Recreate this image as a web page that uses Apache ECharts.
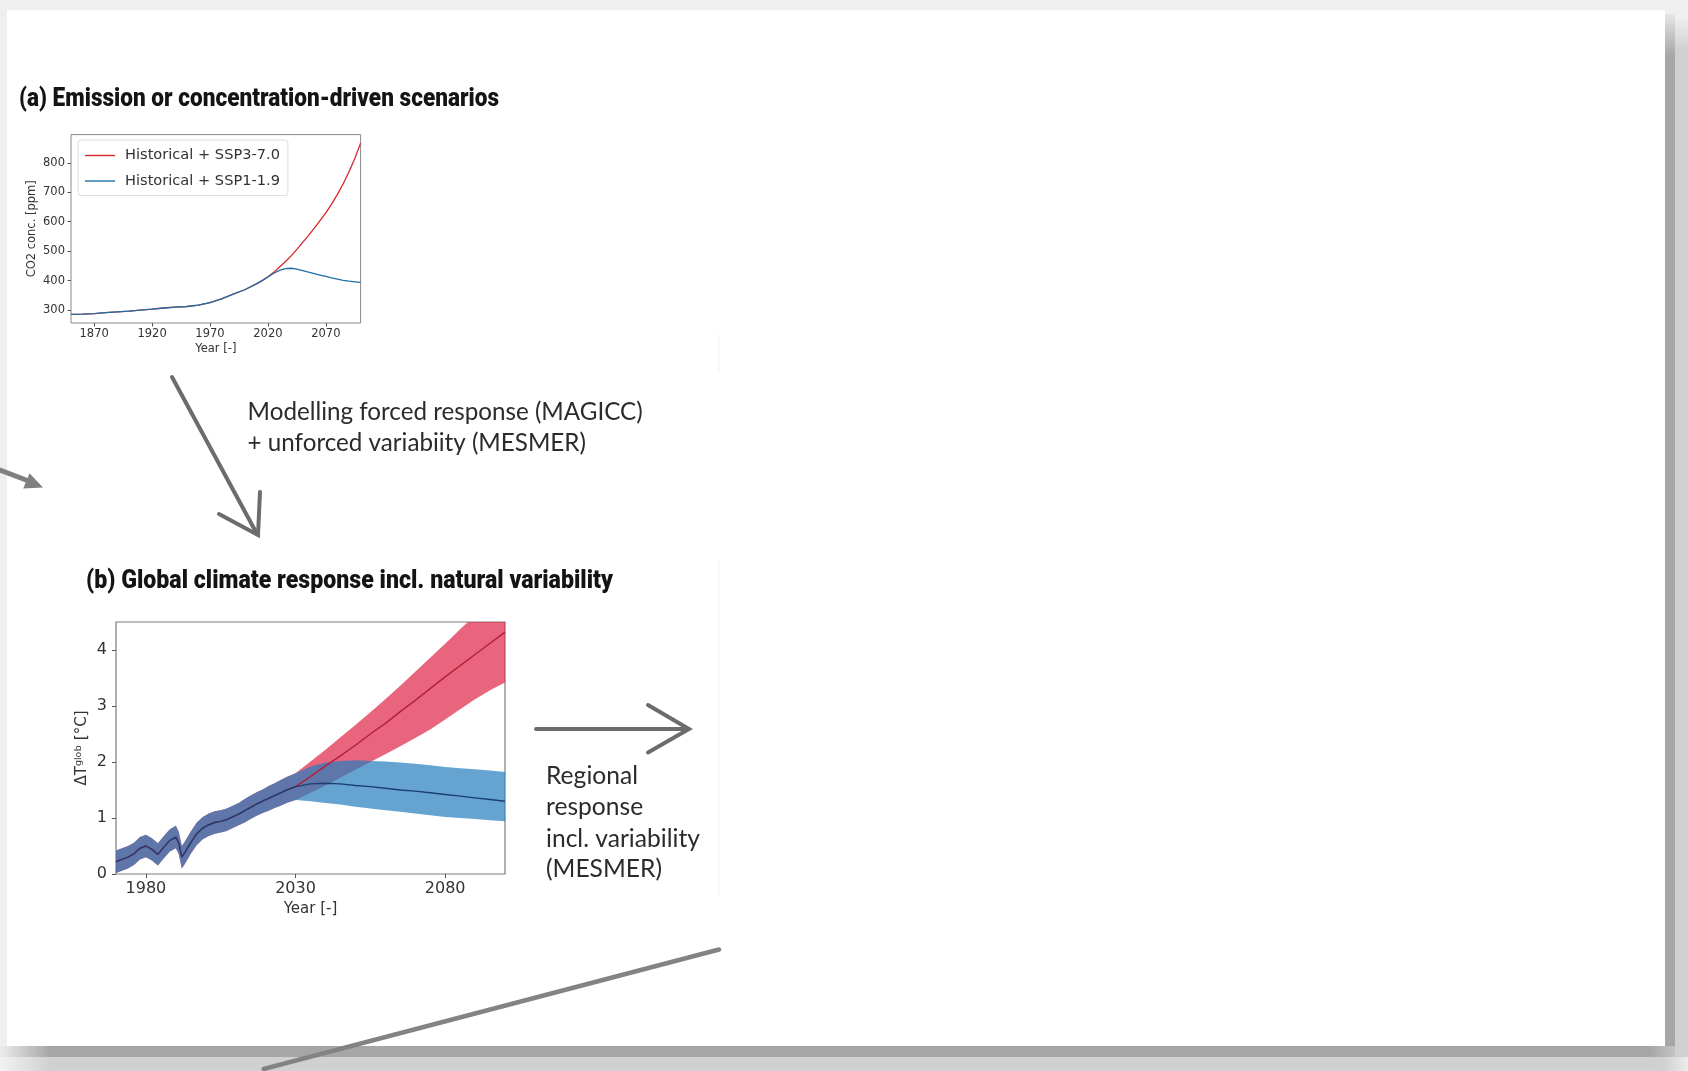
<!DOCTYPE html>
<html><head><meta charset="utf-8">
<script src="https://cdn.jsdelivr.net/npm/echarts@6/dist/echarts.min.js"></script>
<style>html,body{margin:0;padding:0;background:#efefef}#c{width:1688px;height:1071px}</style>
</head><body><div id="c"></div>
<script>
// ================= DATA =================
// (a) CO2 concentration [ppm]
const co2HistYears = [1850,1860,1870,1880,1890,1900,1910,1920,1930,1940,1950,1960,1970,1980,1990,2000,2010,2015];
const co2Hist      = [285,286,288,291,294,296,300,303,307,310,312,317,325,338,354,369,389,400];
const co2ScenYears = [2020,2025,2030,2035,2040,2045,2050,2055,2060,2065,2070,2075,2080,2085,2090,2095,2100];
const co2Ssp370    = [413,428,446,464,484,506,530,553,578,604,630,660,693,729,770,815,867];
const co2Ssp119    = [412,425,435,441,442,439,434,429,424,419,414,409,405,401,398,396,394];
const co2XTicks = [1870,1920,1970,2020,2070];
const co2YTicks = [300,400,500,600,700,800];
const seriesNamesA = ['Historical + SSP3-7.0','Historical + SSP1-1.9'];

// (b) Global temperature response [°C]
const tHistYears = [1970,1972,1974,1976,1978,1980,1982,1984,1986,1988,1990,1991,1992,1993,1995,1997,1999,2001,2003,2005,2007,2009,2011,2013,2015,2017,2019,2021,2023,2025,2027];
const tHistMid   = [0.22,0.26,0.30,0.36,0.46,0.50,0.44,0.35,0.48,0.60,0.66,0.55,0.30,0.38,0.56,0.72,0.82,0.88,0.92,0.94,0.97,1.02,1.07,1.13,1.19,1.25,1.30,1.35,1.40,1.45,1.50];
const tHistLow   = [0.02,0.06,0.10,0.16,0.26,0.30,0.24,0.15,0.28,0.40,0.46,0.35,0.10,0.18,0.36,0.52,0.62,0.68,0.72,0.74,0.77,0.82,0.87,0.92,0.98,1.04,1.09,1.13,1.18,1.22,1.27];
const tHistHigh  = [0.42,0.46,0.50,0.56,0.66,0.70,0.64,0.55,0.68,0.80,0.86,0.75,0.50,0.58,0.76,0.92,1.02,1.08,1.12,1.14,1.17,1.22,1.27,1.34,1.40,1.46,1.51,1.57,1.62,1.68,1.73];
const tScenYears = [2030,2035,2040,2045,2050,2055,2060,2065,2070,2075,2080,2085,2090,2095,2100];
const t370Mid  = [1.56,1.74,1.93,2.11,2.30,2.50,2.69,2.90,3.10,3.31,3.52,3.72,3.92,4.12,4.32];
const t370Low  = [1.32,1.45,1.58,1.72,1.86,2.00,2.14,2.28,2.43,2.58,2.76,2.94,3.12,3.28,3.42];
const t370High = [1.80,2.01,2.22,2.44,2.66,2.89,3.12,3.36,3.61,3.86,4.11,4.37,4.62,4.87,5.10];
const t119Mid  = [1.56,1.61,1.62,1.61,1.58,1.56,1.53,1.50,1.48,1.45,1.42,1.39,1.36,1.33,1.30];
const t119Low  = [1.32,1.30,1.27,1.24,1.20,1.17,1.14,1.11,1.08,1.05,1.02,1.00,0.98,0.96,0.94];
const t119High = [1.80,1.92,1.99,2.02,2.03,2.02,2.01,1.99,1.97,1.94,1.91,1.89,1.87,1.85,1.82];
const tXTicks = [1980,2030,2080];
const tYTicks = [0,1,2,3,4];

// ================= TEXT =================
const titleA = '(a) Emission or concentration-driven scenarios';
const titleB = '(b) Global climate response incl. natural variability';
const modelLines = ['Modelling forced response (MAGICC)', '+ unforced variabiity (MESMER)'];
const regionalLines = ['Regional', 'response', 'incl. variability', '(MESMER)'];

// ================= HELPERS =================
const TITLE_FONT = 'Roboto,"Noto Sans",sans-serif';
const BODY_FONT = 'Lato,"Open Sans",sans-serif';
const PLOT_FONT = '"DejaVu Sans",sans-serif';
const mctx = document.createElement('canvas').getContext('2d');
function measure(text, weight, size, family) {
  mctx.font = weight + ' ' + size + 'px ' + family;
  return mctx.measureText(text).width;
}
function fitSize(text, weight, family, target) {
  return Math.round(1000 * target / measure(text, weight, 100, family)) / 10;
}
const zipXY = (xs, ys) => xs.map((x, i) => [x, ys[i]]);
const TITLE_SIZE = 25;
const TITLE_WEIGHT = '900';
const scaleTitleA = 480 / measure(titleA, TITLE_WEIGHT, TITLE_SIZE, TITLE_FONT);
const scaleTitleB = 527 / measure(titleB, TITLE_WEIGHT, TITLE_SIZE, TITLE_FONT);
const sizeModel = fitSize(modelLines[0], 'normal', BODY_FONT, 395);
const sizeRegional = fitSize(regionalLines[2], 'normal', BODY_FONT, 154);
const sizeLegend = fitSize(seriesNamesA[0], 'normal', PLOT_FONT, 155);

// ================= BUILD =================
const allTYears = tHistYears.concat(tScenYears);

function text(x, y, str, size, family, weight, fill, extra) {
  return Object.assign({
    type: 'text', x: x, y: y, z: 100,
    style: { text: str, fontSize: size, fontFamily: family, fontWeight: weight, fill: fill,
      align: 'left', verticalAlign: 'middle', textAlign: 'left', textVerticalAlign: 'middle' }
  }, extra || {});
}
function line(x1, y1, x2, y2, w, c) {
  return { type: 'line', z: 100, shape: { x1, y1, x2, y2 }, style: { stroke: c, lineWidth: w, lineCap: 'round' } };
}
function poly(pts, w, c) {
  return { type: 'polyline', z: 100, shape: { points: pts }, style: { stroke: c, lineWidth: w, lineCap: 'round', lineJoin: 'miter', fill: null } };
}
function grad(vertical, stops) {
  return new echarts.graphic.LinearGradient(0, 0, vertical ? 0 : 1, vertical ? 1 : 0, stops);
}

const graphics = [
  // page frame & shadow
  { type: 'rect', z: -20, shape: { x: 0, y: 0, width: 1688, height: 1071 }, style: { fill: '#efefef' } },
  { type: 'rect', z: -19, shape: { x: 1675, y: 14, width: 13, height: 1057 },
    style: { fill: grad(true, [{offset:0,color:'#f2f2f2'},{offset:0.035,color:'#d0d0d0'},{offset:1,color:'#d0d0d0'}]) } },
  { type: 'rect', z: -19, shape: { x: 0, y: 1057, width: 1688, height: 14 },
    style: { fill: grad(false, [{offset:0,color:'#f2f2f2'},{offset:0.03,color:'#d0d0d0'},{offset:0.985,color:'#d0d0d0'},{offset:1,color:'#ececec'}]) } },
  { type: 'rect', z: -18, shape: { x: 1665, y: 14, width: 10, height: 1043 },
    style: { fill: grad(true, [{offset:0,color:'#e6e6e6'},{offset:0.04,color:'#a6a6a6'},{offset:1,color:'#a6a6a6'}]) } },
  { type: 'rect', z: -18, shape: { x: 0, y: 1046, width: 1675, height: 11 },
    style: { fill: grad(false, [{offset:0,color:'#ececec'},{offset:0.03,color:'#a6a6a6'},{offset:0.985,color:'#a6a6a6'},{offset:1,color:'#c4c4c4'}]) } },
  { type: 'rect', z: -17, shape: { x: 7, y: 10, width: 1658, height: 1036 }, style: { fill: '#ffffff' } },
  // faint panel edges
  line(719, 335, 719, 372, 1.5, '#f6f6f6'),
  line(719, 560, 719, 895, 1.5, '#f6f6f6'),
  // titles
  text(19, 100, titleA, TITLE_SIZE, TITLE_FONT, TITLE_WEIGHT, '#141414', { scaleX: scaleTitleA }),
  text(86, 582, titleB, TITLE_SIZE, TITLE_FONT, TITLE_WEIGHT, '#141414', { scaleX: scaleTitleB }),
  // arrow (a) -> (b)
  line(172, 377, 257, 534, 4, '#6c6c6c'),
  poly([[219, 514], [258, 535], [260, 492]], 4, '#6c6c6c'),
  text(247.6, 412, modelLines[0], sizeModel, BODY_FONT, 'normal', '#2b2b2b'),
  text(247.6, 443.5, modelLines[1], sizeModel, BODY_FONT, 'normal', '#2b2b2b'),
  // arrow (b) -> regional
  line(536, 729, 688, 729, 4, '#6c6c6c'),
  poly([[648, 705], [689, 729], [648, 752.5]], 4, '#6c6c6c'),
  text(546, 776, regionalLines[0], sizeRegional, BODY_FONT, 'normal', '#2b2b2b'),
  text(546, 807, regionalLines[1], sizeRegional, BODY_FONT, 'normal', '#2b2b2b'),
  text(546, 838.6, regionalLines[2], sizeRegional, BODY_FONT, 'normal', '#2b2b2b'),
  text(546, 868.7, regionalLines[3], sizeRegional, BODY_FONT, 'normal', '#2b2b2b'),
  // small arrow on the left
  line(0, 470, 30, 481.5, 5, '#808080'),
  { type: 'polygon', z: 100, shape: { points: [[43, 487.6], [29.5, 473.2], [23.2, 488.6]] }, style: { fill: '#808080' } },
  // long diagonal line at the bottom
  line(263.7, 1069, 719, 949.5, 4.5, '#838383')
];

// band drawn as a filled polygon between low and high, through the axis scales
function bandSeries(name, xs, lo, hi, color, opacity, z) {
  return {
    name: name, type: 'custom', xAxisIndex: 1, yAxisIndex: 1, silent: true, clip: true, z: z,
    data: xs.map((x, i) => [x, lo[i], hi[i]]),
    encode: { x: 0, y: [1, 2] },
    renderItem: function (params, api) {
      if (params.dataIndex !== 0) return null;
      const pts = [];
      for (let i = 0; i < xs.length; i++) pts.push(api.coord([xs[i], hi[i]]));
      for (let i = xs.length - 1; i >= 0; i--) pts.push(api.coord([xs[i], lo[i]]));
      const cs = params.coordSys;
      return {
        type: 'polygon', shape: { points: pts }, style: { fill: color, opacity: opacity },
        clipPath: { type: 'rect', shape: { x: cs.x, y: cs.y, width: cs.width, height: cs.height } }
      };
    }
  };
}

const axisTickStyle = { color: '#555', width: 1 };
const yearFmt = v => String(v);
const option = {
  animation: false,
  backgroundColor: 'transparent',
  graphic: { elements: graphics },
  legend: {
    data: seriesNamesA, left: 78, top: 140, orient: 'vertical',
    itemWidth: 30, itemHeight: 12, itemGap: 10.5, padding: [8, 8, 7, 7],
    borderColor: '#dddddd', borderWidth: 1, borderRadius: 3, backgroundColor: 'rgba(255,255,255,0.8)',
    icon: 'path://M0,0 L30,0 L30,1.4 L0,1.4 Z',
    textStyle: { fontSize: sizeLegend, fontFamily: PLOT_FONT, color: '#333', padding: [0, 0, 0, 5] }
  },
  grid: [
    { left: 71, top: 134.6, width: 289.6, height: 188.4, show: true, borderColor: '#8a8a8a', borderWidth: 1, backgroundColor: '#fff' },
    { left: 116, top: 622, width: 389, height: 252, show: true, borderColor: '#7c7c7c', borderWidth: 1.2, backgroundColor: '#fff' }
  ],
  xAxis: [
    { gridIndex: 0, type: 'value', min: 1850, max: 2100,
      axisLine: { show: false }, splitLine: { show: false },
      axisTick: { show: true, length: 3.5, lineStyle: axisTickStyle, customValues: co2XTicks },
      axisLabel: { customValues: co2XTicks, formatter: yearFmt, fontSize: 11.5, fontFamily: PLOT_FONT, color: '#333', margin: 5 },
      name: 'Year [-]', nameLocation: 'middle', nameGap: 20,
      nameTextStyle: { fontSize: 11.5, fontFamily: PLOT_FONT, color: '#333' } },
    { gridIndex: 1, type: 'value', min: 1970, max: 2100,
      axisLine: { show: false }, splitLine: { show: false },
      axisTick: { show: true, length: 4, lineStyle: axisTickStyle, customValues: tXTicks },
      axisLabel: { customValues: tXTicks, formatter: yearFmt, fontSize: 16, fontFamily: PLOT_FONT, color: '#333', margin: 7 },
      name: 'Year [-]', nameLocation: 'middle', nameGap: 28,
      nameTextStyle: { fontSize: 15, fontFamily: PLOT_FONT, color: '#333' } }
  ],
  yAxis: [
    { gridIndex: 0, type: 'value', min: 256, max: 896,
      axisLine: { show: false }, splitLine: { show: false },
      axisTick: { show: true, length: 3.5, lineStyle: axisTickStyle, customValues: co2YTicks },
      axisLabel: { customValues: co2YTicks, fontSize: 11.5, fontFamily: PLOT_FONT, color: '#333', margin: 6 },
      name: 'CO2 conc. [ppm]', nameLocation: 'middle', nameGap: 33,
      nameTextStyle: { fontSize: 11.5, fontFamily: PLOT_FONT, color: '#333' } },
    { gridIndex: 1, type: 'value', min: 0, max: 4.5,
      axisLine: { show: false }, splitLine: { show: false },
      axisTick: { show: true, length: 4, lineStyle: axisTickStyle, customValues: tYTicks },
      axisLabel: { customValues: tYTicks, fontSize: 16, fontFamily: PLOT_FONT, color: '#333', margin: 9 },
      name: 'ΔTᵍˡᵒᵇ [°C]', nameLocation: 'middle', nameGap: 26,
      nameTextStyle: { fontSize: 15, fontFamily: PLOT_FONT, color: '#333' } }
  ],
  series: [
    // (a)
    { name: seriesNamesA[0], type: 'line', xAxisIndex: 0, yAxisIndex: 0, symbol: 'none', silent: true,
      data: zipXY(co2HistYears.concat(co2ScenYears), co2Hist.concat(co2Ssp370)),
      lineStyle: { color: '#d62728', width: 1.3 }, itemStyle: { color: '#d62728' }, z: 3 },
    { name: seriesNamesA[1], type: 'line', xAxisIndex: 0, yAxisIndex: 0, symbol: 'none', silent: true,
      data: zipXY(co2HistYears.concat(co2ScenYears), co2Hist.concat(co2Ssp119)),
      lineStyle: { color: '#1f6fa8', width: 1.3 }, itemStyle: { color: '#1f6fa8' }, z: 4 },
    // (b) bands
    bandSeries('SSP3-7.0 range', allTYears, tHistLow.concat(t370Low), tHistHigh.concat(t370High), 'rgb(222,35,70)', 0.7, 2),
    bandSeries('SSP1-1.9 range', allTYears, tHistLow.concat(t119Low), tHistHigh.concat(t119High), 'rgb(35,125,190)', 0.7, 3),
    // (b) central lines
    { name: 'SSP3-7.0 median', type: 'line', xAxisIndex: 1, yAxisIndex: 1, symbol: 'none', silent: true,
      data: zipXY(allTYears, tHistMid.concat(t370Mid)), lineStyle: { color: '#b41f3a', width: 1.4 }, z: 4 },
    { name: 'SSP1-1.9 median', type: 'line', xAxisIndex: 1, yAxisIndex: 1, symbol: 'none', silent: true,
      data: zipXY(allTYears, tHistMid.concat(t119Mid)), lineStyle: { color: '#1c3f73', width: 1.4 }, z: 5 }
  ]
};
const chart = echarts.init(document.getElementById('c'), null, { renderer: 'canvas', width: 1688, height: 1071 });
chart.setOption(option);
</script></body></html>
